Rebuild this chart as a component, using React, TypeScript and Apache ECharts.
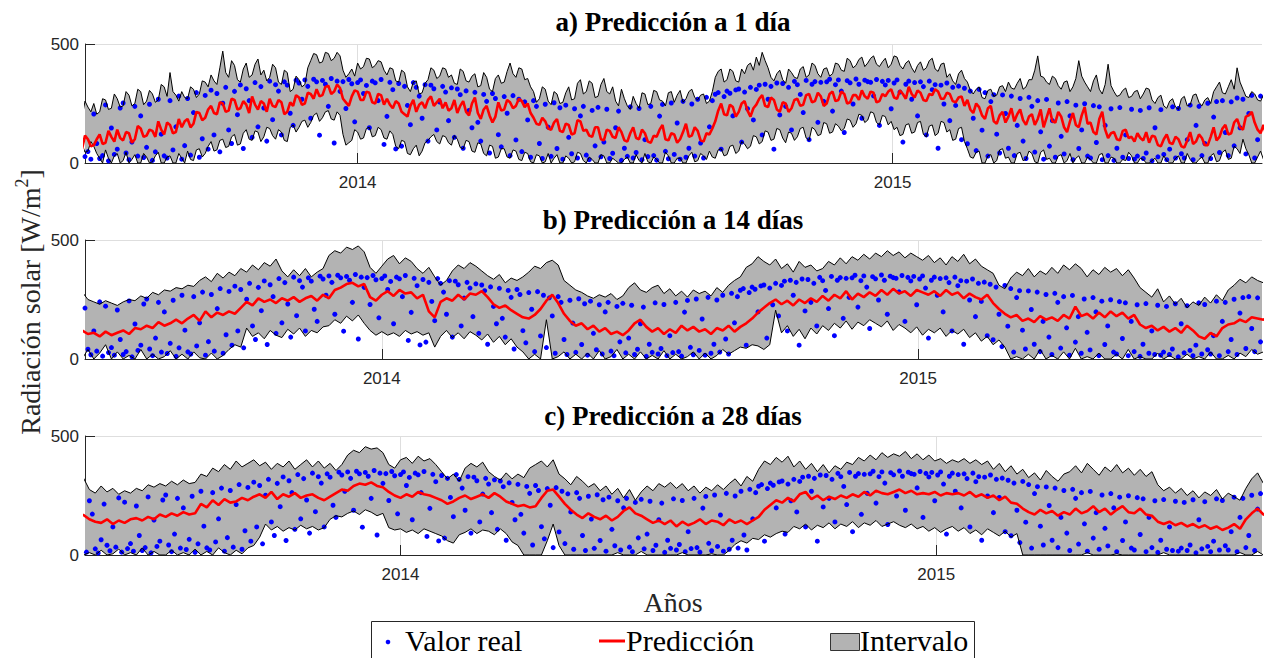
import { useEffect, useRef } from 'react';
import * as echarts from 'echarts';

// Shared time origin; panel a sampled every 2 days, panels b/c every 4 days, real values every 2 days
const START = '2013-05-26';
const REAL_STEP_DAYS = 2;
const YEAR_TICKS = ['2014-01-01', '2015-01-01'];
const Y_MIN = 0;
const Y_MAX = 500;

// a) Predicción a 1 día (every 2 days)
const A_UP = [200,235,210,180,190,250,230,205,205,245,220,185,195,265,240,200,190,260,235,215,
  250,205,215,270,265,225,230,290,270,235,240,300,285,240,250,310,300,245,260,305,
  290,255,265,330,320,280,380,300,285,260,300,275,270,320,310,275,290,345,340,320,
  370,345,330,400,470,380,360,430,410,350,340,395,420,360,370,415,437,370,390,345,
  360,415,400,340,330,390,380,300,310,365,350,320,330,400,430,460,455,420,425,465,
  460,430,440,465,450,390,360,375,395,365,420,395,405,440,437,400,410,430,425,390,
  370,400,395,345,340,390,380,320,300,340,345,290,295,335,350,400,390,355,365,400,
  395,360,370,335,330,395,385,345,340,365,375,320,325,380,360,310,300,355,370,335,
  340,385,420,375,360,400,395,350,355,320,300,255,270,320,310,260,245,300,290,250,
  255,295,320,265,270,335,350,290,300,345,335,275,280,330,355,300,290,320,260,240,
  310,270,240,225,280,250,230,295,290,245,250,305,300,265,260,240,295,300,255,285,
  305,255,270,300,310,275,265,285,290,250,260,300,360,385,395,340,350,395,385,345,
  340,395,375,410,420,390,445,410,465,430,400,360,345,375,390,350,335,395,380,360,
  355,395,405,360,370,420,410,375,360,395,400,365,375,420,415,390,385,440,430,400,
  410,435,445,405,420,440,450,415,405,425,440,400,415,450,445,410,395,420,430,400,
  380,410,425,390,400,430,440,395,385,415,420,360,375,345,330,375,390,355,340,305,
  290,310,320,275,270,305,310,280,285,320,325,300,340,315,310,335,355,310,320,350,
  350,390,450,365,360,340,330,365,355,325,310,340,345,300,320,355,430,365,340,320,
  300,345,370,310,290,330,415,325,300,280,285,305,315,275,280,300,305,270,290,315,
  310,265,250,275,285,240,230,260,270,235,225,270,280,240,245,285,290,255,240,265,
  275,250,300,320,340,295,290,320,350,310,400,340,310,280,275,300,290,265,260,285,
  270];
const A_LO = [40,15,20,55,60,25,10,35,50,10,30,65,70,30,20,85,80,45,50,90,
  70,40,20,0,55,20,0,30,40,0,10,45,0,15,35,0,0,40,25,0,
  5,30,45,0,0,25,30,0,0,40,20,0,50,15,10,55,60,25,40,70,
  90,50,55,95,100,65,70,110,120,75,80,125,140,100,95,135,130,90,110,150,
  145,115,100,140,130,95,90,150,160,130,150,175,180,150,170,200,210,175,190,215,
  220,185,180,215,200,120,75,85,95,140,130,100,105,145,150,110,115,150,140,105,
  100,135,120,70,60,95,90,40,35,60,75,30,50,85,95,110,120,90,80,115,
  110,85,75,115,100,65,60,95,90,50,45,85,80,40,30,75,70,20,25,60,
  60,25,20,55,50,15,10,45,40,5,0,35,30,0,5,40,0,20,35,0,
  0,30,20,0,5,45,40,10,0,25,15,0,0,35,30,0,0,20,10,0,
  0,15,25,0,0,35,10,0,40,5,0,25,15,0,0,45,30,0,0,20,
  20,0,0,30,45,5,10,40,30,15,50,25,20,55,60,30,35,70,75,40,
  50,90,80,60,70,115,110,80,90,135,130,95,100,145,140,105,85,130,125,95,
  110,145,150,105,95,150,140,115,120,170,165,125,130,165,155,135,145,185,180,150,
  165,205,200,170,180,215,210,170,160,200,195,160,175,140,150,115,120,160,165,125,
  130,170,175,120,110,155,160,115,125,175,170,130,140,95,100,145,150,90,60,25,
  20,45,50,0,0,30,35,0,10,55,60,20,25,0,0,40,45,10,15,50,
  40,5,0,45,55,15,20,0,0,30,35,0,10,40,0,20,30,0,0,25,
  15,0,0,35,40,0,0,25,20,0,0,15,10,45,30,0,0,20,15,0,
  0,10,20,0,0,30,10,0,0,20,30,0,0,40,15,0,0,15,25,0,
  0,30,40,5,10,45,55,15,20,70,60,40,100,60,35,0,0,25,50,15,
  20];
const A_PR = [70,95,60,45,90,65,50,85,80,55,65,105,95,60,70,50,60,115,100,70,
  75,100,120,80,85,135,110,90,140,105,95,130,125,85,100,155,145,110,115,140,
  135,110,175,140,120,170,160,125,130,185,150,175,185,150,165,215,210,180,190,225,
  240,210,205,255,250,215,220,270,265,225,230,260,245,210,280,245,225,260,250,215,
  270,240,235,265,255,205,215,255,240,285,275,245,250,295,290,270,310,280,285,320,
  325,290,300,330,315,270,255,240,280,305,300,265,265,300,295,255,250,290,285,245,
  270,245,230,260,250,215,205,195,240,265,215,245,255,230,265,280,240,255,270,230,
  255,220,230,265,210,240,260,215,200,250,275,210,185,225,240,200,170,195,255,220,
  225,265,255,230,240,270,260,235,250,210,190,165,160,190,175,145,140,170,185,135,
  130,165,160,120,125,180,175,135,140,115,110,150,150,100,95,140,135,110,105,150,
  130,95,90,125,150,105,100,140,125,90,85,115,110,140,160,100,95,125,120,85,
  100,130,165,110,115,150,135,95,90,125,120,145,175,220,250,205,200,245,235,195,
  215,250,260,220,195,230,245,270,285,240,235,275,265,225,215,255,250,215,230,265,
  270,240,245,285,290,255,260,295,280,240,250,290,300,260,265,300,290,250,255,285,
  285,265,305,280,270,300,295,255,260,290,280,300,310,275,270,305,290,270,320,290,
  275,305,295,265,260,290,285,310,300,270,270,295,290,260,255,275,280,240,265,225,
  210,250,235,200,185,230,240,175,165,200,215,170,195,230,175,205,225,180,160,195,
  205,160,185,225,150,190,230,175,170,215,195,150,130,175,210,160,150,200,235,165,
  170,130,120,185,215,140,105,125,130,100,95,135,140,105,110,90,125,105,95,130,
  85,115,110,75,70,100,120,85,80,110,100,70,65,95,130,80,90,120,105,75,
  75,110,150,95,110,145,160,120,125,170,185,150,140,195,200,215,170,140,125,160,
  115];

// b) Predicción a 14 días (every 4 days)
const B_UP = [270,260,275,280,282,250,240,230,245,235,
  225,240,250,245,265,255,280,270,290,285,
  300,295,310,305,330,345,325,360,340,365,
  350,380,365,395,375,405,390,420,370,345,
  375,350,380,345,365,380,435,455,445,470,
  460,475,450,385,360,390,420,435,400,425,
  410,380,360,385,345,310,330,370,395,380,
  405,390,370,350,335,355,320,340,330,345,
  365,390,380,405,415,395,330,310,290,280,
  265,255,270,260,275,250,265,300,320,290,
  280,300,310,275,295,265,285,260,290,275,
  285,265,300,280,310,330,345,385,400,430,
  410,395,420,380,400,365,410,385,395,370,
  380,410,395,425,400,430,415,440,420,445,
  430,455,435,450,425,445,430,415,435,405,
  425,395,430,410,440,400,420,390,375,360,
  310,295,340,365,350,380,345,370,355,385,
  360,395,375,400,380,345,375,355,385,365,
  380,350,375,340,300,280,260,295,240,265,
  230,255,215,240,225,260,235,270,245,290,
  310,335,320,345,330,320,300,290,280,270,
  260];
const B_LO = [0,10,30,5,0,40,0,25,60,0,
  30,0,15,0,40,0,20,0,10,35,
  0,20,0,30,5,0,25,0,15,40,
  60,50,130,95,110,85,120,100,90,125,
  105,130,95,120,110,135,140,165,150,180,
  160,185,150,120,100,115,100,110,95,120,
  105,115,100,110,50,95,120,90,110,85,
  115,100,80,105,70,95,60,85,50,30,
  0,20,0,165,0,10,30,0,20,0,
  25,0,35,0,10,40,0,20,0,30,
  0,15,0,35,0,20,0,10,30,0,
  25,0,15,40,20,35,50,45,60,55,
  40,60,205,110,140,95,125,85,130,105,
  140,120,150,130,160,125,155,140,165,150,
  135,160,120,145,130,110,135,100,125,110,
  130,95,120,105,125,90,110,75,95,60,
  80,50,0,10,0,20,0,40,0,15,
  0,30,0,45,0,10,0,25,0,0,
  20,0,40,0,10,0,0,25,0,15,
  0,0,20,0,10,0,30,0,0,15,
  0,25,10,40,20,30,10,0,20,0,
  10];
const B_PR = [110,105,115,100,120,105,110,95,115,100,
  110,120,105,130,125,140,130,155,140,150,
  165,150,170,185,160,200,175,195,185,200,
  190,215,240,225,255,240,250,235,255,245,
  260,240,255,265,245,270,255,290,300,315,
  320,305,315,260,245,270,285,265,290,275,
  280,255,270,200,175,240,255,245,270,250,
  275,270,285,260,230,215,225,205,190,175,
  170,185,210,245,270,235,190,160,140,150,
  125,140,115,130,105,115,100,120,150,165,
  135,115,130,105,125,110,140,120,135,115,
  125,105,130,120,140,115,135,150,170,195,
  215,235,250,230,245,225,250,235,255,240,
  265,245,270,255,285,250,275,260,280,265,
  290,270,295,275,285,265,290,280,270,285,
  265,290,270,280,255,275,260,250,270,235,
  210,190,175,185,160,170,155,180,165,175,
  160,185,170,220,180,190,170,195,175,200,
  180,195,170,185,145,130,140,120,135,115,
  130,110,140,120,95,85,110,95,130,145,
  150,165,155,175,170,165,180,170,160,165,
  160];

// c) Predicción a 28 días (every 4 days)
const C_UP = [320,323,275,260,290,265,280,255,270,260,
  280,270,295,285,300,290,310,295,315,300,
  305,340,330,365,350,380,360,395,370,385,
  400,375,390,360,385,370,395,360,380,400,
  370,395,365,385,355,380,420,440,430,455,
  445,450,430,380,365,400,410,385,415,395,
  405,380,350,320,340,310,365,385,370,390,
  350,330,315,345,320,340,325,365,380,395,
  370,400,340,320,295,330,310,285,300,270,
  290,255,280,240,275,230,265,290,270,300,
  285,305,280,300,270,290,260,285,270,295,
  275,300,320,290,330,310,360,395,380,410,
  390,415,370,395,360,385,350,380,345,375,
  360,390,380,410,395,420,400,430,410,425,
  415,435,405,425,400,420,395,405,385,400,
  390,405,385,400,380,395,360,385,350,375,
  340,360,325,345,315,355,330,310,340,350,
  375,345,385,360,335,370,350,380,345,365,
  335,360,330,350,295,270,285,260,280,250,
  270,240,265,250,275,235,260,245,230,280,
  320,345,300,290,310,280,300,290,285,280,
  275];
const C_LO = [0,0,10,0,20,0,5,25,0,10,
  0,30,0,15,0,0,20,0,10,0,
  25,0,15,0,30,10,0,20,5,30,
  40,75,130,105,120,100,115,105,125,110,
  120,105,115,150,165,160,175,185,170,190,
  180,165,175,115,105,110,95,105,90,110,
  100,90,80,60,50,85,95,110,90,105,
  100,85,110,90,55,40,0,0,0,0,
  60,130,40,0,0,0,0,0,0,0,
  0,0,10,0,0,0,15,0,0,0,
  0,0,0,10,0,0,0,0,5,0,
  0,20,45,60,50,70,65,85,75,90,
  100,95,120,110,130,105,125,115,135,110,
  130,120,140,115,135,125,145,120,130,140,
  125,115,130,110,120,100,115,95,110,120,
  100,115,90,105,85,110,95,80,100,75,
  90,0,0,0,0,0,0,0,0,0,
  0,0,10,0,0,0,0,5,0,0,
  0,0,0,0,0,10,0,0,0,0,
  0,0,0,0,0,0,0,0,10,0,
  0,15,0,5,0,0,0,0,0,0,
  0];
const C_PR = [170,168,150,140,135,150,130,145,135,150,
  155,145,160,150,170,160,175,165,180,170,
  175,215,200,230,210,235,220,225,240,230,
  245,255,240,265,235,255,245,260,240,250,
  255,240,230,245,260,275,270,290,300,295,
  305,290,285,265,250,240,255,245,265,255,
  250,240,230,215,225,240,250,235,245,255,
  240,260,245,225,215,205,210,200,205,240,
  270,275,245,215,190,170,155,175,160,150,
  165,145,160,185,200,175,165,150,135,145,
  130,145,120,140,125,135,150,130,145,140,
  125,150,135,145,130,145,160,190,210,230,
  220,240,225,255,265,235,250,230,245,235,
  250,240,255,245,265,250,270,260,255,265,
  275,260,270,255,260,255,265,250,260,255,
  260,250,265,245,255,240,250,230,245,220,
  215,195,180,170,190,175,185,165,180,170,
  195,175,185,205,180,195,170,190,205,180,
  175,195,170,165,140,130,140,125,135,120,
  130,115,125,110,120,105,115,130,110,150,
  175,195,170,165,175,170,165,160,170,165,
  160];

// Valor real (every 2 days)
const REAL = [95,22,38,12,228,172,26,8,64,214,41,18,118,33,240,
  12,222,27,48,16,206,82,19,31,244,9,147,36,58,231,
  252,42,14,88,238,29,198,23,66,247,11,47,268,121,30,
  21,262,55,152,281,16,73,271,33,212,296,24,102,284,58,
  306,118,292,47,251,318,139,82,301,203,328,61,312,262,108,
  338,152,321,231,92,344,182,329,302,118,341,327,209,158,348,
  336,268,349,322,188,352,341,117,347,331,238,355,84,344,301,
  342,229,351,333,173,338,349,292,326,148,344,337,262,351,78,
  196,339,308,59,334,71,322,242,161,338,318,281,188,329,92,
  327,312,139,256,322,298,178,316,108,311,287,62,303,221,148,
  297,171,92,288,259,42,292,271,119,68,279,209,31,283,97,
  268,48,257,181,24,262,238,82,19,247,151,28,253,61,232,
  16,243,108,39,228,21,198,238,33,14,221,72,234,26,88,
  226,19,41,148,218,11,62,28,236,21,44,229,14,98,27,
  238,31,12,197,246,49,18,252,36,168,16,259,24,62,248,
  29,268,84,21,276,152,262,289,296,58,279,302,293,198,307,
  311,88,298,228,318,181,309,327,118,331,268,322,58,336,202,
  334,238,318,139,343,329,288,212,347,98,331,342,171,339,259,
  341,352,218,329,349,302,128,346,337,248,353,331,188,348,342,
  339,282,351,158,343,328,347,228,336,349,298,88,331,344,268,
  338,198,341,321,118,344,308,329,62,327,248,336,178,318,242,
  323,98,314,81,302,188,52,309,138,296,29,258,287,121,42,
  286,208,62,281,31,158,271,92,19,276,238,46,262,131,16,
  267,71,178,24,252,112,38,258,198,14,243,61,139,249,29,
  21,241,86,236,14,158,31,228,11,62,233,24,118,19,226,
  16,29,221,19,42,232,9,148,26,224,36,14,58,236,21,
  229,39,21,98,243,14,158,238,31,82,251,19,193,258,44,
  262,128,31,257,72,273,148,268,38,208,284,21,98,281,62,
  288];

const PANELS = [
  { title: 'a) Predicción a 1 día', min: '2013-06-29', max: '2015-09-10', step: 2, up: A_UP, lo: A_LO, pr: A_PR },
  { title: 'b) Predicción a 14 días', min: '2013-06-13', max: '2015-08-23', step: 4, up: B_UP, lo: B_LO, pr: B_PR },
  { title: 'c) Predicción a 28 días', min: '2013-05-31', max: '2015-08-11', step: 4, up: C_UP, lo: C_LO, pr: C_PR },
];

const SERIF = '"Liberation Serif", "Times New Roman", serif';
const SANS = '"Liberation Sans", Arial, Helvetica, sans-serif';
const DAY_MS = 86400000;
const toTs = (s: string) => {
  const [y, m, d] = s.split('-').map(Number);
  return Date.UTC(y, m - 1, d);
};

const GRID_TOPS = [44, 240, 436];
const GRID_H = 119;
const TITLE_Y = [22, 220, 416];

export default function App() {
  const ref = useRef<HTMLDivElement>(null);
  useEffect(() => {
    document.body.style.margin = '0';
    const chart = echarts.init(ref.current!, null, { renderer: 'svg' });
    const t0 = toTs(START);
    const xOf = (i: number, step: number) => t0 + i * step * DAY_MS;
    const pairs = (arr: number[], step: number) => arr.map((v, i) => [xOf(i, step), v]);
    const yearTs = YEAR_TICKS.map(toTs);

    const grid = PANELS.map((_, k) => ({ left: 85, right: 5, top: GRID_TOPS[k], height: GRID_H }));
    const xAxis = PANELS.map((p, k) => ({
      type: 'value',
      gridIndex: k,
      min: toTs(p.min),
      max: toTs(p.max),
      axisLine: { show: true, lineStyle: { color: '#262626', width: 1 } },
      axisTick: { show: true, inside: true, length: 10, customValues: yearTs, lineStyle: { color: '#262626' } },
      axisLabel: {
        customValues: yearTs,
        formatter: (v: number) => String(new Date(v).getUTCFullYear()),
        fontFamily: SANS, fontSize: 17, color: '#262626', margin: 11,
      },
      splitLine: { show: true, lineStyle: { color: '#dedede', width: 1 } },
    }));
    const yAxis = PANELS.map((_, k) => ({
      type: 'value',
      gridIndex: k,
      min: Y_MIN, max: Y_MAX, interval: 500,
      axisLine: { show: true, lineStyle: { color: '#262626', width: 1 } },
      axisTick: { show: true, inside: true, length: 10, lineStyle: { color: '#262626' } },
      axisLabel: { fontFamily: SANS, fontSize: 17, color: '#262626', margin: 6 },
      splitLine: { show: true, lineStyle: { color: '#dedede', width: 1 } },
    }));

    const series: any[] = [];
    PANELS.forEach((p, k) => {
      const common = { xAxisIndex: k, yAxisIndex: k, symbol: 'none', silent: true };
      series.push({
        type: 'custom', name: 'Intervalo', xAxisIndex: k, yAxisIndex: k, silent: true, clip: true,
        data: [[toTs(p.min), 0]],
        renderItem: (_params: any, api: any) => {
          const top = p.up.map((v, i) => api.coord([xOf(i, p.step), v]));
          const bot = p.lo.map((v, i) => api.coord([xOf(i, p.step), v])).reverse();
          return { type: 'polygon', shape: { points: top.concat(bot) }, style: { fill: '#b3b3b3' } };
        },
      });
      series.push({ ...common, type: 'line', data: pairs(p.up, p.step), lineStyle: { color: '#000', width: 1 } });
      series.push({ ...common, type: 'line', data: pairs(p.lo, p.step), lineStyle: { color: '#000', width: 1 } });
      series.push({
        xAxisIndex: k, yAxisIndex: k, type: 'scatter', name: 'Valor real', silent: true,
        data: pairs(REAL, REAL_STEP_DAYS), symbol: 'circle', symbolSize: 5,
        itemStyle: { color: '#0000ff', opacity: 1 }, clip: true,
      });
      series.push({ ...common, type: 'line', name: 'Predicción', data: pairs(p.pr, p.step), lineStyle: { color: '#ff0000', width: 2.6 } });
    });

    const graphic: any[] = [];
    PANELS.forEach((p, k) => {
      graphic.push({
        type: 'text', x: 673, y: TITLE_Y[k],
        style: { text: p.title, fontFamily: SERIF, fontSize: 27, fontWeight: 'bold', fill: '#000', align: 'center', verticalAlign: 'middle' },
      });
    });
    graphic.push({
      type: 'text', x: 30, y: 302, rotation: Math.PI / 2,
      style: {
        text: '{a|Radiación solar [W/m}{s|2}{a|]}',
        align: 'center', verticalAlign: 'middle',
        rich: {
          a: { fontFamily: SERIF, fontSize: 28, fill: '#262626', color: '#262626', lineHeight: 34 },
          s: { fontFamily: SERIF, fontSize: 18, fill: '#262626', color: '#262626', verticalAlign: 'top', lineHeight: 34 },
        },
      },
    });
    graphic.push({
      type: 'text', x: 673, y: 602,
      style: { text: 'Años', fontFamily: SERIF, fontSize: 28, fill: '#262626', align: 'center', verticalAlign: 'middle' },
    });
    // legend box
    graphic.push({ type: 'rect', shape: { x: 371.5, y: 621.5, width: 603, height: 50 }, style: { fill: '#fff', stroke: '#262626', lineWidth: 1 } });
    graphic.push({ type: 'circle', shape: { cx: 388, cy: 642, r: 2.3 }, style: { fill: '#0000ff' } });
    graphic.push({ type: 'text', x: 405, y: 640, style: { text: 'Valor real', fontFamily: SERIF, fontSize: 30, fill: '#000', align: 'left', verticalAlign: 'middle' } });
    graphic.push({ type: 'line', shape: { x1: 599, y1: 641, x2: 625, y2: 641 }, style: { stroke: '#ff0000', lineWidth: 3 } });
    graphic.push({ type: 'text', x: 626, y: 640, style: { text: 'Predicción', fontFamily: SERIF, fontSize: 30, fill: '#000', align: 'left', verticalAlign: 'middle' } });
    graphic.push({ type: 'rect', shape: { x: 830.5, y: 633.5, width: 29, height: 17 }, style: { fill: '#b3b3b3', stroke: '#333', lineWidth: 1 } });
    graphic.push({ type: 'text', x: 860, y: 640, style: { text: 'Intervalo', fontFamily: SERIF, fontSize: 30, fill: '#000', align: 'left', verticalAlign: 'middle' } });

    chart.setOption({
      animation: false,
      backgroundColor: '#ffffff',
      grid, xAxis, yAxis, series, graphic,
    });
    return () => chart.dispose();
  }, []);
  return <div ref={ref} style={{ width: 1267, height: 658 }} />;
}
